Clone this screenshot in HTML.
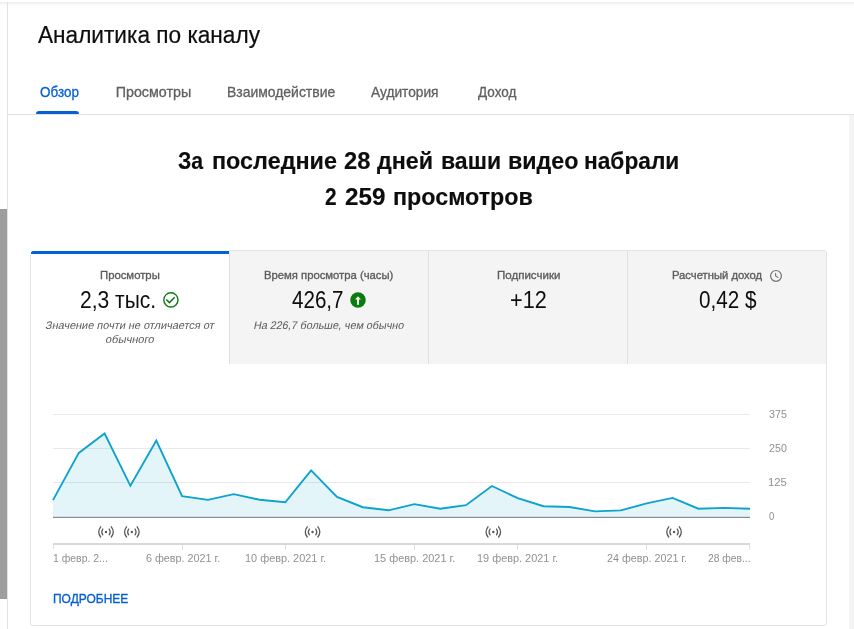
<!DOCTYPE html>
<html lang="ru"><head><meta charset="utf-8"><title>Аналитика по каналу</title>
<style>
html,body{margin:0;padding:0;background:#fff;}
body{width:854px;height:629px;position:relative;overflow:hidden;font-family:"Liberation Sans",sans-serif;}
.t{position:absolute;white-space:pre;line-height:1;transform-origin:0 0;display:block;}
.abs{position:absolute;}
</style></head><body>
<!-- page chrome -->
<div class="abs" style="left:0;top:2px;width:854px;height:4px;background:linear-gradient(#ededed,#fff);"></div>
<div class="abs" style="left:7px;top:2px;width:1px;height:627px;background:#e2e2e2;"></div>
<div class="abs" style="left:0;top:209px;width:7px;height:390px;background:#9e9e9e;"></div>
<div class="abs" style="left:8px;top:114px;width:846px;height:1px;background:#e2e2e2;"></div>
<div class="abs" style="left:849px;top:115px;width:5px;height:514px;background:#f4f4f4;"></div>
<!-- active tab underline -->
<div class="abs" style="left:36px;top:111px;width:43px;height:3px;background:#065fd4;border-radius:3px 3px 0 0;"></div>
<!-- card -->
<div class="abs" style="left:30px;top:250px;width:795px;height:374px;border:1px solid #e3e3e3;border-radius:3px;background:#fff;"></div>
<div class="abs" style="left:229px;top:251px;width:597px;height:113px;background:#f4f4f4;"></div>
<div class="abs" style="left:229px;top:251px;width:1px;height:113px;background:#e0e0e0;"></div>
<div class="abs" style="left:428px;top:251px;width:1px;height:113px;background:#e0e0e0;"></div>
<div class="abs" style="left:627px;top:251px;width:1px;height:113px;background:#e0e0e0;"></div>
<div class="abs" style="left:30px;top:250px;width:199px;height:4px;background:#fff;"></div>
<div class="abs" style="left:31px;top:251px;width:198px;height:3px;background:#065fd4;border-radius:2px 0 0 0;"></div>
<!-- chart + icons -->
<svg class="abs" style="left:0;top:0" width="854" height="629" viewBox="0 0 854 629">
 <g stroke="#e9e9e9" stroke-width="1" shape-rendering="crispEdges">
  <line x1="53" x2="750" y1="414.5" y2="414.5"/><line x1="53" x2="750" y1="448.5" y2="448.5"/><line x1="53" x2="750" y1="482.5" y2="482.5"/>
 </g>
 <polygon fill="rgba(18,165,205,0.115)" points="53,517 53.0,500.1 78.8,452.9 104.6,433.5 130.4,485.8 156.3,440.6 182.1,496.1 207.9,499.9 233.7,494.1 259.5,499.7 285.3,502.3 311.1,470.4 337.0,496.9 362.8,507.2 388.6,510.3 414.4,504.1 440.2,508.8 466.0,505.2 491.9,486.0 517.7,498.2 543.5,506.2 569.3,507.0 595.1,511.4 620.9,510.4 646.7,503.4 672.6,497.9 698.4,508.7 724.2,507.9 750.0,508.7 750,517"/>
 <polyline fill="none" stroke="#0ea3cc" stroke-width="1.9" stroke-linejoin="miter" points="53.0,500.1 78.8,452.9 104.6,433.5 130.4,485.8 156.3,440.6 182.1,496.1 207.9,499.9 233.7,494.1 259.5,499.7 285.3,502.3 311.1,470.4 337.0,496.9 362.8,507.2 388.6,510.3 414.4,504.1 440.2,508.8 466.0,505.2 491.9,486.0 517.7,498.2 543.5,506.2 569.3,507.0 595.1,511.4 620.9,510.4 646.7,503.4 672.6,497.9 698.4,508.7 724.2,507.9 750.0,508.7"/>
 <rect x="53" y="516.8" width="697" height="1.2" fill="#8a8a8a"/>
 <rect x="53" y="543" width="697" height="2" fill="#d8d8d8"/>
 <g fill="#dedede"><rect x="53" y="545" width="1" height="4.5"/><rect x="182" y="545" width="1" height="4.5"/><rect x="285" y="545" width="1" height="4.5"/><rect x="414" y="545" width="1" height="4.5"/><rect x="517" y="545" width="1" height="4.5"/><rect x="646" y="545" width="1" height="4.5"/><rect x="749" y="545" width="1" height="4.5"/></g>
 <defs>
  <g id="live" fill="none" stroke="#5c5c5c" stroke-width="1.3" stroke-linecap="round">
   <circle cx="0" cy="0" r="1.25" fill="#5c5c5c" stroke="none"/>
   <path d="M-3.2,-2.9 Q-5.2,0 -3.2,2.9"/><path d="M3.2,-2.9 Q5.2,0 3.2,2.9"/>
   <path d="M-5.3,-5.1 Q-9.2,0 -5.3,5.1"/><path d="M5.3,-5.1 Q9.2,0 5.3,5.1"/>
  </g>
 </defs>
 <use href="#live" x="106" y="531.9"/><use href="#live" x="131.85" y="531.9"/><use href="#live" x="312.55" y="531.9"/><use href="#live" x="493.3" y="531.9"/><use href="#live" x="674.05" y="531.9"/>
 <!-- check circle -->
 <g fill="none" stroke="#0c7c12">
  <circle cx="170.9" cy="299.9" r="7.1" stroke-width="1.4"/>
  <path d="M166.3,299.4 L169.4,302.6 L174.7,297.2" stroke-width="1.5"/>
 </g>
 <!-- up arrow circle -->
 <circle cx="358" cy="299.9" r="7.75" fill="#0b7b0e"/>
 <polygon points="358,296.2 361,299.5 359,299.5 359,304.8 357,304.8 357,299.5 355,299.5" fill="#eef6ee"/>
 <!-- clock -->
 <g fill="none" stroke="#717171" stroke-width="1.2">
  <circle cx="776" cy="275.9" r="5.4"/>
  <path d="M775.6,273 L775.6,275.9 L778.4,277.6" stroke-width="1.1"/>
 </g>
</svg>
<span class="t" style="left:38.00px;top:24.00px;color:#0d0d0d;transform:scaleX(0.9836);font-size:23px;-webkit-text-stroke:0.2px;">Аналитика по каналу</span>
<span class="t" style="left:39.70px;top:85.00px;color:#065fd4;transform:scaleX(0.9415);font-size:14.3px;-webkit-text-stroke:0.3px;">Обзор</span>
<span class="t" style="left:115.70px;top:85.00px;color:#606060;transform:scaleX(1.0000);font-size:14.3px;-webkit-text-stroke:0.3px;">Просмотры</span>
<span class="t" style="left:226.63px;top:85.00px;color:#606060;transform:scaleX(0.9745);font-size:14.3px;-webkit-text-stroke:0.3px;">Взаимодействие</span>
<span class="t" style="left:371.10px;top:85.00px;color:#606060;transform:scaleX(0.9586);font-size:14.3px;-webkit-text-stroke:0.3px;">Аудитория</span>
<span class="t" style="left:477.75px;top:85.00px;color:#606060;transform:scaleX(0.9452);font-size:14.3px;-webkit-text-stroke:0.3px;">Доход</span>
<span class="t" style="left:178.00px;top:149.00px;color:#0d0d0d;transform:scaleX(0.8862);font-size:24px;font-weight:700;-webkit-text-stroke:0.15px;">За</span>
<span class="t" style="left:211.83px;top:149.00px;color:#0d0d0d;transform:scaleX(0.9740);font-size:24px;font-weight:700;-webkit-text-stroke:0.15px;">последние</span>
<span class="t" style="left:343.70px;top:149.00px;color:#0d0d0d;transform:scaleX(0.9885);font-size:24px;font-weight:700;-webkit-text-stroke:0.15px;">28</span>
<span class="t" style="left:377.40px;top:149.00px;color:#0d0d0d;transform:scaleX(0.9702);font-size:24px;font-weight:700;-webkit-text-stroke:0.15px;">дней</span>
<span class="t" style="left:440.74px;top:149.00px;color:#0d0d0d;transform:scaleX(0.9600);font-size:24px;font-weight:700;-webkit-text-stroke:0.15px;">ваши</span>
<span class="t" style="left:507.53px;top:149.00px;color:#0d0d0d;transform:scaleX(0.9690);font-size:24px;font-weight:700;-webkit-text-stroke:0.15px;">видео</span>
<span class="t" style="left:584.45px;top:149.00px;color:#0d0d0d;transform:scaleX(0.9465);font-size:24px;font-weight:700;-webkit-text-stroke:0.15px;">набрали</span>
<span class="t" style="left:325.20px;top:185.00px;color:#0d0d0d;transform:scaleX(0.8692);font-size:24px;font-weight:700;-webkit-text-stroke:0.15px;">2</span>
<span class="t" style="left:345.20px;top:185.00px;color:#0d0d0d;transform:scaleX(1.0100);font-size:24px;font-weight:700;-webkit-text-stroke:0.15px;">259</span>
<span class="t" style="left:392.93px;top:185.00px;color:#0d0d0d;transform:scaleX(0.9699);font-size:24px;font-weight:700;-webkit-text-stroke:0.15px;">просмотров</span>
<span class="t" style="left:100.20px;top:269.00px;color:#5c5c5c;transform:scaleX(0.9677);font-size:11.7px;-webkit-text-stroke:0.35px;">Просмотры</span>
<span class="t" style="left:264.40px;top:269.00px;color:#5c5c5c;transform:scaleX(0.9649);font-size:11.7px;-webkit-text-stroke:0.35px;">Время просмотра (часы)</span>
<span class="t" style="left:496.60px;top:269.00px;color:#5c5c5c;transform:scaleX(0.9859);font-size:11.7px;-webkit-text-stroke:0.35px;">Подписчики</span>
<span class="t" style="left:671.90px;top:269.00px;color:#5c5c5c;transform:scaleX(0.9617);font-size:11.7px;-webkit-text-stroke:0.35px;">Расчетный доход</span>
<span class="t" style="left:80.28px;top:288.05px;color:#0d0d0d;transform:scale(0.9225,1.05);font-size:22.8px;">2,3 тыс.</span>
<span class="t" style="left:292.30px;top:288.05px;color:#0d0d0d;transform:scale(0.9036,1.05);font-size:22.8px;">426,7</span>
<span class="t" style="left:509.85px;top:288.05px;color:#0d0d0d;transform:scale(0.9514,1.05);font-size:22.8px;">+12</span>
<span class="t" style="left:698.79px;top:288.05px;color:#0d0d0d;transform:scale(0.9065,1.05);font-size:22.8px;">0,42 $</span>
<span class="t" style="left:46.79px;top:320.00px;color:#5a5a5a;transform:scaleX(0.9918) skewX(-12deg);font-size:11px;">Значение почти не отличается от</span>
<span class="t" style="left:106.61px;top:334.00px;color:#5a5a5a;transform:scaleX(1.0125) skewX(-12deg);font-size:11px;">обычного</span>
<span class="t" style="left:254.98px;top:320.00px;color:#5a5a5a;transform:scaleX(0.9771) skewX(-12deg);font-size:11px;">На 226,7 больше, чем обычно</span>
<span class="t" style="left:768.80px;top:409.00px;color:#909090;transform:scaleX(0.9722);font-size:11px;">375</span>
<span class="t" style="left:768.80px;top:443.00px;color:#909090;transform:scaleX(0.9722);font-size:11px;">250</span>
<span class="t" style="left:767.77px;top:477.00px;color:#909090;transform:scaleX(1.0294);font-size:11px;">125</span>
<span class="t" style="left:768.90px;top:511.00px;color:#909090;transform:scaleX(0.8667);font-size:11px;">0</span>
<span class="t" style="left:52.85px;top:553.00px;color:#909090;transform:scaleX(0.9500);font-size:11px;">1 февр. 2...</span>
<span class="t" style="left:145.50px;top:553.00px;color:#909090;transform:scaleX(0.9800);font-size:11px;">6 февр. 2021 г.</span>
<span class="t" style="left:244.71px;top:553.00px;color:#909090;transform:scaleX(0.9913);font-size:11px;">10 февр. 2021 г.</span>
<span class="t" style="left:373.81px;top:553.00px;color:#909090;transform:scaleX(0.9925);font-size:11px;">15 февр. 2021 г.</span>
<span class="t" style="left:477.11px;top:553.00px;color:#909090;transform:scaleX(0.9912);font-size:11px;">19 февр. 2021 г.</span>
<span class="t" style="left:607.20px;top:553.00px;color:#909090;transform:scaleX(0.9778);font-size:11px;">24 февр. 2021 г.</span>
<span class="t" style="left:707.90px;top:553.00px;color:#909090;transform:scaleX(0.9356);font-size:11px;">28 фев...</span>
<span class="t" style="left:53.00px;top:592.00px;color:#065fd4;transform:scaleX(0.9207);font-size:13px;-webkit-text-stroke:0.35px;">ПОДРОБНЕЕ</span>
</body></html>
